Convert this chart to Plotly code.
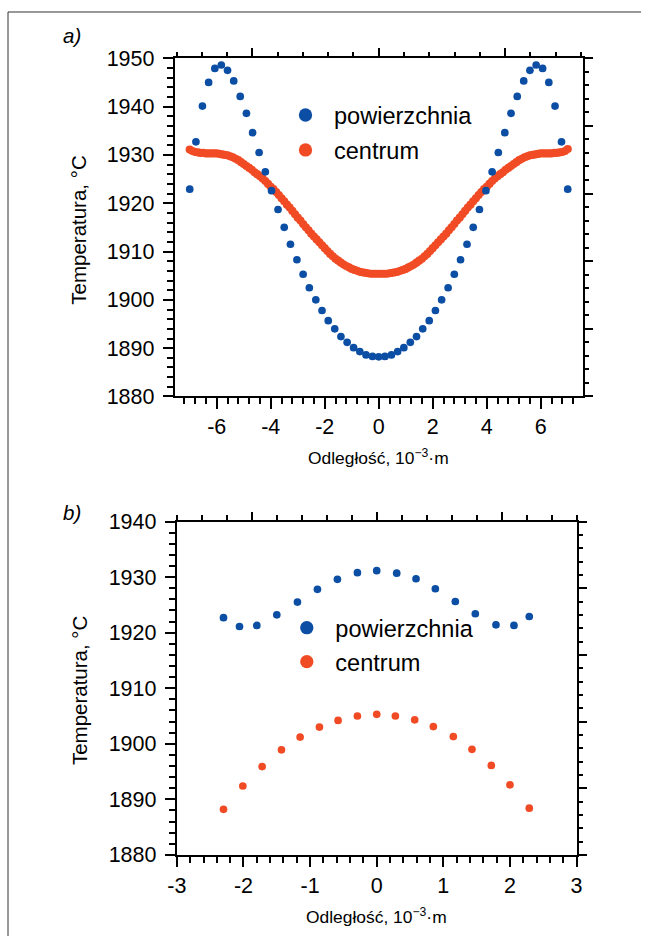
import plotly.graph_objects as go

# ---------------- data: panel a) ----------------
a_surface_x = [-7.0, -6.77, -6.53, -6.3, -6.07, -5.83, -5.6, -5.37, -5.13, -4.9,
               -4.67, -4.43, -4.2, -3.97, -3.73, -3.5, -3.27, -3.03, -2.8, -2.57,
               -2.33, -2.1, -1.87, -1.63, -1.4, -1.17, -0.93, -0.7, -0.47, -0.23,
               0.0,
               0.23, 0.47, 0.7, 0.93, 1.17, 1.4, 1.63, 1.87, 2.1, 2.33,
               2.57, 2.8, 3.03, 3.27, 3.5, 3.73, 3.97, 4.2, 4.43, 4.67,
               4.9, 5.13, 5.37, 5.6, 5.83, 6.07, 6.3, 6.53, 6.77, 7.0]
a_surface_t = [1922.9, 1932.7, 1940.1, 1945.0, 1947.9, 1948.6, 1947.5, 1945.3, 1942.1, 1938.6,
               1934.6, 1930.5, 1926.5, 1922.6, 1918.7, 1915.0, 1911.5, 1908.3, 1905.3, 1902.5,
               1900.0, 1897.8, 1895.7, 1894.0, 1892.4, 1891.2, 1890.1, 1889.3, 1888.6, 1888.3,
               1888.2,
               1888.3, 1888.6, 1889.3, 1890.1, 1891.2, 1892.4, 1894.0, 1895.7, 1897.8, 1900.0,
               1902.5, 1905.3, 1908.3, 1911.5, 1915.0, 1918.7, 1922.6, 1926.5, 1930.5, 1934.6,
               1938.6, 1942.1, 1945.3, 1947.5, 1948.6, 1947.9, 1945.0, 1940.1, 1932.7, 1922.9]

a_center_x = [-7.0, -6.9, -6.8, -6.7, -6.6, -6.5, -6.4, -6.3, -6.2, -6.1,
              -6.0, -5.9, -5.8, -5.7, -5.6, -5.5, -5.4, -5.3, -5.2, -5.1,
              -5.0, -4.9, -4.8, -4.7, -4.6, -4.5, -4.4, -4.3, -4.2, -4.1,
              -4.0, -3.9, -3.8, -3.7, -3.6, -3.5, -3.4, -3.3, -3.2, -3.1,
              -3.0, -2.9, -2.8, -2.7, -2.6, -2.5, -2.4, -2.3, -2.2, -2.1,
              -2.0, -1.9, -1.8, -1.7, -1.6, -1.5, -1.4, -1.3, -1.2, -1.1,
              -1.0, -0.9, -0.8, -0.7, -0.6, -0.5, -0.4, -0.3, -0.2, -0.1,
              0.0,
              0.1, 0.2, 0.3, 0.4, 0.5, 0.6, 0.7, 0.8, 0.9,
              1.0, 1.1, 1.2, 1.3, 1.4, 1.5, 1.6, 1.7, 1.8, 1.9,
              2.0, 2.1, 2.2, 2.3, 2.4, 2.5, 2.6, 2.7, 2.8, 2.9,
              3.0, 3.1, 3.2, 3.3, 3.4, 3.5, 3.6, 3.7, 3.8, 3.9,
              4.0, 4.1, 4.2, 4.3, 4.4, 4.5, 4.6, 4.7, 4.8, 4.9,
              5.0, 5.1, 5.2, 5.3, 5.4, 5.5, 5.6, 5.7, 5.8, 5.9,
              6.0, 6.1, 6.2, 6.3, 6.4, 6.5, 6.6, 6.7, 6.8, 6.9,
              7.0]
a_center_t = [1931.1, 1930.8, 1930.6, 1930.5, 1930.4, 1930.4, 1930.3, 1930.3, 1930.3, 1930.3,
              1930.3, 1930.2, 1930.1, 1930.0, 1929.9, 1929.7, 1929.5, 1929.2, 1928.9, 1928.5,
              1928.1, 1927.7, 1927.3, 1926.9, 1926.4, 1926.0, 1925.6, 1925.1, 1924.6, 1924.0,
              1923.4, 1922.9, 1922.3, 1921.7, 1921.0, 1920.4, 1919.7, 1919.1, 1918.4, 1917.7,
              1917.0, 1916.4, 1915.7, 1915.0, 1914.4, 1913.7, 1913.1, 1912.5, 1911.9, 1911.3,
              1910.7, 1910.1, 1909.5, 1909.0, 1908.5, 1908.1, 1907.7, 1907.3, 1907.0, 1906.7,
              1906.4, 1906.2, 1906.0, 1905.8, 1905.7, 1905.6, 1905.5, 1905.4, 1905.4, 1905.4,
              1905.4,
              1905.4, 1905.4, 1905.4, 1905.5, 1905.6, 1905.7, 1905.8, 1906.0, 1906.2,
              1906.4, 1906.7, 1907.0, 1907.3, 1907.7, 1908.1, 1908.5, 1909.0, 1909.5, 1910.1,
              1910.7, 1911.3, 1911.9, 1912.5, 1913.1, 1913.7, 1914.4, 1915.0, 1915.7, 1916.4,
              1917.0, 1917.7, 1918.4, 1919.1, 1919.7, 1920.4, 1921.0, 1921.7, 1922.3, 1922.9,
              1923.4, 1924.0, 1924.6, 1925.1, 1925.6, 1926.0, 1926.4, 1926.9, 1927.3, 1927.7,
              1928.1, 1928.5, 1928.9, 1929.2, 1929.5, 1929.7, 1929.9, 1930.0, 1930.1, 1930.2,
              1930.3, 1930.3, 1930.3, 1930.3, 1930.3, 1930.4, 1930.4, 1930.5, 1930.6, 1930.8,
              1931.2]

# ---------------- data: panel b) ----------------
b_surface_x = [-2.30, -2.06, -1.80, -1.50, -1.19, -0.89, -0.59, -0.29, 0.0,
               0.30, 0.59, 0.88, 1.18, 1.48, 1.79, 2.06, 2.29]
b_surface_t = [1922.7, 1921.1, 1921.3, 1923.2, 1925.5, 1927.8, 1929.6, 1930.8, 1931.15,
               1930.7, 1929.7, 1927.9, 1925.6, 1923.4, 1921.4, 1921.3, 1922.9]
b_center_x = [-2.30, -2.01, -1.72, -1.43, -1.15, -0.86, -0.58, -0.29, 0.0,
              0.28, 0.57, 0.85, 1.15, 1.43, 1.72, 2.0, 2.29]
b_center_t = [1888.2, 1892.4, 1895.9, 1898.9, 1901.2, 1903.0, 1904.2, 1905.0, 1905.3,
              1905.0, 1904.3, 1903.1, 1901.3, 1899.0, 1896.1, 1892.6, 1888.4]

# ---------------- tick labels / texts ----------------
a_xticks = [-6, -4, -2, 0, 2, 4, 6]
a_xticklabels = ["-6", "-4", "-2", "0", "2", "4", "6"]
a_yticks = [1880, 1890, 1900, 1910, 1920, 1930, 1940, 1950]
b_xticks = [-3, -2, -1, 0, 1, 2, 3]
b_xticklabels = ["-3", "-2", "-1", "0", "1", "2", "3"]
b_yticks = [1880, 1890, 1900, 1910, 1920, 1930, 1940]
series_names = ["powierzchnia", "centrum"]
x_title = "Odległość, 10<sup>−3</sup>·m"
y_title = "Temperatura, °C"

BLUE = "#0b4ea3"
ORANGE = "#f14b25"
W, H = 647, 949
FONT = "Liberation Sans, Arial, sans-serif"

# the photographed page is shown slightly scaled and shifted; compensate
S = 0.976
OFF = 10.0
K = 1 / S          # size factor
LW = 1.6 * K


def px(x):
    return ((x - OFF) / S) / W


def py(y):
    return 1 - ((y - OFF) / S) / H


fig = go.Figure()

# panel a
fig.add_trace(go.Scatter(x=a_center_x, y=a_center_t, mode="markers", xaxis="x", yaxis="y",
                         marker=dict(color=ORANGE, size=8 * K), showlegend=False,
                         hoverinfo="skip"))
fig.add_trace(go.Scatter(x=a_surface_x, y=a_surface_t, mode="markers", xaxis="x", yaxis="y",
                         marker=dict(color=BLUE, size=7.5 * K), showlegend=False,
                         hoverinfo="skip"))
# panel b
fig.add_trace(go.Scatter(x=b_surface_x, y=b_surface_t, mode="markers", xaxis="x3", yaxis="y3",
                         marker=dict(color=BLUE, size=7.5 * K), showlegend=False,
                         hoverinfo="skip"))
fig.add_trace(go.Scatter(x=b_center_x, y=b_center_t, mode="markers", xaxis="x3", yaxis="y3",
                         marker=dict(color=ORANGE, size=7.5 * K), showlegend=False,
                         hoverinfo="skip"))

# dummy traces so that the secondary (unlabelled) axes are drawn
for xa, ya in [("x2", "y"), ("x", "y2"), ("x4", "y3"), ("x3", "y4")]:
    fig.add_trace(go.Scatter(x=[None], y=[None], mode="markers", xaxis=xa, yaxis=ya,
                             showlegend=False, hoverinfo="skip"))

# legend entries (one legend per entry for exact placement)
legend_specs = [("legend", series_names[0], BLUE, "x", "y"),
                ("legend2", series_names[1], ORANGE, "x", "y"),
                ("legend3", series_names[0], BLUE, "x3", "y3"),
                ("legend4", series_names[1], ORANGE, "x3", "y3")]
for lg, name, col, xa, ya in legend_specs:
    fig.add_trace(go.Scatter(x=[None], y=[None], mode="markers", name=name, legend=lg,
                             xaxis=xa, yaxis=ya, marker=dict(color=col, size=13 * K),
                             showlegend=True))


def minor(dt, t0, ln):
    return dict(tick0=t0, dtick=dt, ticks="outside", ticklen=ln * K, tickwidth=LW,
                tickcolor="black")


def prim_axis(**kw):
    d = dict(showline=True, linecolor="black", linewidth=LW, ticks="outside", ticklen=10 * K,
             tickwidth=LW, tickcolor="black", showgrid=False, zeroline=False,
             tickfont=dict(family=FONT, size=21 * K, color="black"), fixedrange=True)
    d.update(kw)
    return d


def sec_axis(**kw):
    d = dict(showline=True, linecolor="black", linewidth=LW, ticks="outside", ticklen=8 * K,
             tickwidth=LW, tickcolor="black", showgrid=False, zeroline=False,
             showticklabels=False, fixedrange=True)
    d.update(kw)
    return d


a_xdom = [px(175), px(583)]
a_ydom = [py(396), py(57.3)]
b_xdom = [px(177), px(577)]
b_ydom = [py(855), py(521.2)]

legend_common = dict(bgcolor="rgba(0,0,0,0)", borderwidth=0, itemwidth=int(round(46 * K)),
                     font=dict(family=FONT, size=23 * K, color="black"),
                     xanchor="left", yanchor="middle", itemclick=False, itemdoubleclick=False)
LX_OFF = 28.5   # marker centre relative to legend left edge (screen px)
LY_OFF = 4      # legend box centre sits a little below the marker centre

fig.update_layout(
    width=W, height=H, margin=dict(l=0, r=0, t=0, b=0),
    paper_bgcolor="white", plot_bgcolor="white",
    font=dict(family=FONT, color="black"),
    xaxis=prim_axis(domain=a_xdom, anchor="y", range=[-7.55, 7.55], tickvals=a_xticks,
                    ticktext=a_xticklabels, minor=minor(0.4, 0, 6)),
    yaxis=prim_axis(domain=a_ydom, anchor="x", range=[1880, 1950], tickvals=a_yticks,
                    ticklabelstandoff=4, minor=minor(2, 1880, 6)),
    xaxis2=sec_axis(overlaying="x", anchor="y", side="top", range=[-1.613, 1.613],
                    tick0=0, dtick=1, minor=minor(0.2, 0, 4.5)),
    yaxis2=sec_axis(overlaying="y", anchor="x", side="right", range=[0, 5], tick0=0, dtick=1,
                    minor=minor(0.2, 0, 4.5)),
    xaxis3=prim_axis(domain=b_xdom, anchor="y3", range=[-3, 3], tickvals=b_xticks,
                     ticktext=b_xticklabels, minor=minor(0.2, 0, 6)),
    yaxis3=prim_axis(domain=b_ydom, anchor="x3", range=[1880, 1940], tickvals=b_yticks,
                     ticklabelstandoff=4, minor=minor(2, 1880, 6)),
    xaxis4=sec_axis(overlaying="x3", anchor="y3", side="top", range=[-1.6, 1.6],
                    tick0=0, dtick=1, minor=minor(0.2, 0, 4.5)),
    yaxis4=sec_axis(overlaying="y3", anchor="x3", side="right", range=[0, 5], tick0=0, dtick=1,
                    minor=minor(0.2, 0, 4.5)),
    legend=dict(legend_common, x=px(305.7 - LX_OFF), y=py(118.3 - LY_OFF)),
    legend2=dict(legend_common, x=px(305.7 - LX_OFF), y=py(153.3 - LY_OFF)),
    legend3=dict(legend_common, x=px(307 - LX_OFF), y=py(631.7 - LY_OFF)),
    legend4=dict(legend_common, x=px(307 - LX_OFF), y=py(665.7 - LY_OFF)),
)


def note(text, x, y, size=20, angle=0):
    fig.add_annotation(text=text, x=px(x), y=py(y), xref="paper", yref="paper",
                       xanchor="center", yanchor="middle", textangle=angle,
                       showarrow=False, font=dict(family=FONT, size=size * K, color="black"))


note("<i>a)</i>", 72, 35)
note("<i>b)</i>", 72, 512)
note(y_title, 79, 229, size=20, angle=-90)
note(y_title, 79, 690, size=20, angle=-90)
note(x_title, 379, 457, size=17)
note(x_title, 377, 916, size=17)

# outer frame (left and top edges)
fig.add_shape(type="line", xref="paper", yref="paper", x0=px(8), x1=px(8), y0=0, y1=py(11),
              line=dict(color="#333333", width=1))
fig.add_shape(type="line", xref="paper", yref="paper", x0=px(8), x1=1, y0=py(11), y1=py(11),
              line=dict(color="#333333", width=1))

fig.write_html("out.html", config=dict(displayModeBar=False),
               post_script="document.body.style.margin='0';document.body.style.overflow='hidden';")
